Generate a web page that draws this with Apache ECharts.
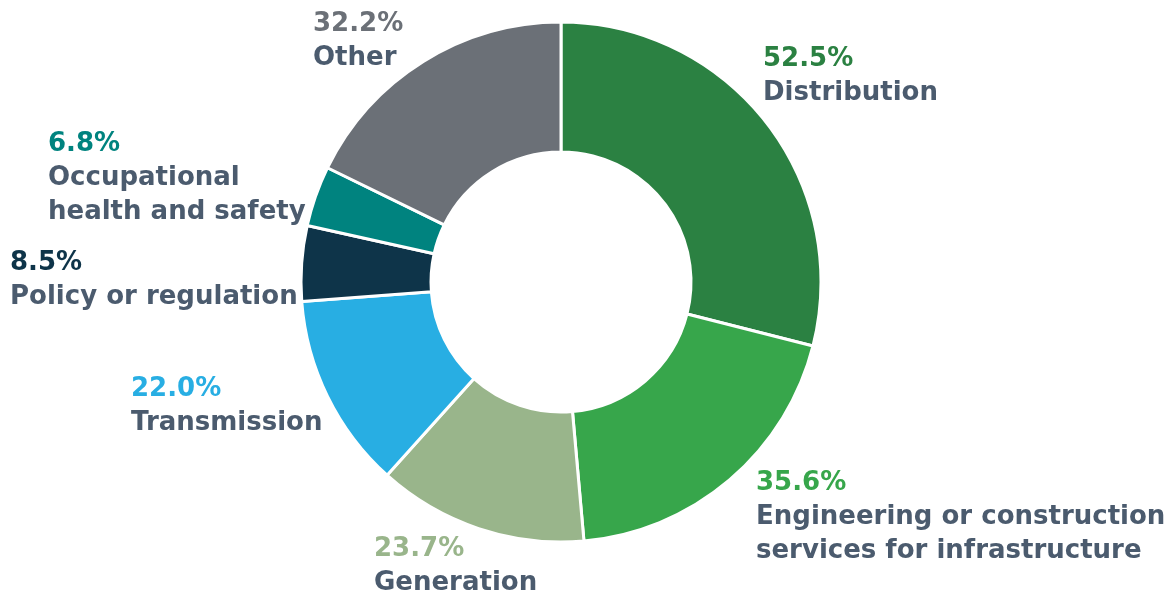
<!DOCTYPE html>
<html>
<head>
<meta charset="utf-8">
<script src="https://cdn.jsdelivr.net/npm/echarts@6/dist/echarts.min.js"></script>
<style>
  html, body { margin: 0; padding: 0; background: #fff; }
  #chart { width: 1172px; height: 594px; }
</style>
</head>
<body>
<div id="chart"></div>
<script>
// data (share of respondents, multi-select)
const categories = [
  'Distribution',
  'Engineering or construction\nservices for infrastructure',
  'Generation',
  'Transmission',
  'Policy or regulation',
  'Occupational\nhealth and safety',
  'Other',
]
const values = [52.5, 35.6, 23.7, 22.0, 8.5, 6.8, 32.2]

const colors = ['#2b8142', '#37a64b', '#99b58b', '#28aee3', '#0e3449', '#00837f', '#6b7077']
// left / top of each label block
const labelPos = [
  [763, 42],
  [756, 466],
  [374, 532],
  [131, 372],
  [10, 246],
  [48, 127],
  [313, 7],
]

const chart = echarts.init(document.getElementById('chart'))

const rich = {
  n: {
    fontFamily: 'DejaVu Sans',
    fontWeight: 'bold',
    fontSize: 26,
    lineHeight: 34,
    color: '#4b5b6e',
  },
}
colors.forEach((c, i) => {
  rich['p' + i] = {
    fontFamily: 'DejaVu Sans',
    fontWeight: 'bold',
    fontSize: 26,
    lineHeight: 34,
    color: c,
  }
})

chart.setOption({
  animation: false,
  series: [
    {
      type: 'pie',
      center: [561, 282],
      radius: [130, 260],
      startAngle: 90,
      clockwise: true,
      avoidLabelOverlap: false,
      itemStyle: {
        borderColor: '#fff',
        borderWidth: 3,
      },
      label: {
        show: true,
        position: 'outside',
        formatter: p => {
          const name = p.name.split('\n').map(s => '{n|' + s + '}').join('\n')
          return '{p' + p.dataIndex + '|' + p.value.toFixed(1) + '%}\n' + name
        },
        rich: rich,
      },
      labelLine: { show: false },
      labelLayout: p => ({
        x: labelPos[p.dataIndex][0],
        y: labelPos[p.dataIndex][1],
        align: 'left',
        verticalAlign: 'top',
      }),
      data: categories.map((name, i) => ({
        name: name,
        value: values[i],
        itemStyle: { color: colors[i] },
      })),
    },
  ],
})
</script>
</body>
</html>
